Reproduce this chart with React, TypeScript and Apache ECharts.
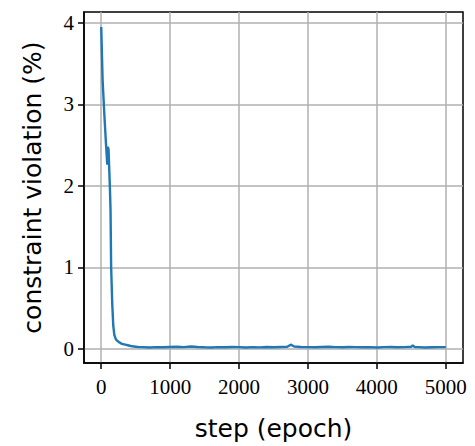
import React, { useEffect, useRef } from "react";
import * as echarts from "echarts";

// Training steps (epochs) at which constraint violation was recorded
const steps = [
  0, 20, 45, 70, 88, 96, 106, 125, 135, 144, 160, 175, 190, 210, 230, 260, 300,
  350, 400, 450, 500, 550, 600, 700, 800, 900, 1000, 1100, 1200, 1300, 1400,
  1500, 1600, 1700, 1800, 1900, 2000, 2100, 2200, 2300, 2400, 2500, 2600, 2700,
  2750, 2800, 2900, 3000, 3100, 3200, 3300, 3400, 3500, 3600, 3700, 3800, 3900,
  4000, 4100, 4200, 4300, 4400, 4500, 4520, 4550, 4600, 4700, 4800, 4900, 5000,
];

// Constraint violation (%) at each step
const violation = [
  3.95, 3.3, 2.88, 2.5, 2.26, 2.48, 2.45, 2.0, 1.71, 1.0, 0.55, 0.28, 0.17,
  0.12, 0.1, 0.08, 0.06, 0.05, 0.04, 0.03, 0.025, 0.02, 0.02, 0.015, 0.02,
  0.018, 0.022, 0.025, 0.02, 0.028, 0.022, 0.018, 0.015, 0.02, 0.018, 0.022,
  0.02, 0.015, 0.02, 0.017, 0.022, 0.018, 0.022, 0.025, 0.05, 0.028, 0.022,
  0.02, 0.018, 0.022, 0.025, 0.02, 0.018, 0.022, 0.02, 0.018, 0.02, 0.015,
  0.02, 0.022, 0.018, 0.02, 0.025, 0.04, 0.022, 0.02, 0.015, 0.018, 0.02, 0.02,
];

const xTicks = [0, 1000, 2000, 3000, 4000, 5000];
const yTicks = [0, 1, 2, 3, 4];

const xName = "step (epoch)";
const yName = "constraint violation (%)";

export default function App() {
  const ref = useRef<HTMLDivElement>(null);

  useEffect(() => {
    document.body.style.margin = "0";
    if (!ref.current) return;
    const chart = echarts.init(ref.current, undefined, { renderer: "svg" });

    const tickFont = {
      fontFamily: "Liberation Serif",
      fontSize: 21,
      color: "#000",
    };
    const titleFont = {
      fontFamily: "DejaVu Sans",
      fontSize: 25,
      color: "#000",
    };
    const gridLine = { show: true, lineStyle: { color: "#b0b0b0", width: 1.5 } };
    const axisLine = { show: true, onZero: false, lineStyle: { color: "#000", width: 1.5 } };

    chart.setOption({
      animation: false,
      grid: {
        left: 84,
        right: 12,
        top: 12,
        bottom: 82,
        show: true,
        borderColor: "#000",
        borderWidth: 1.5,
        backgroundColor: "transparent",
      },
      xAxis: {
        type: "value",
        min: -250,
        max: 5250,
        name: xName,
        nameLocation: "middle",
        nameGap: 53,
        nameTextStyle: titleFont,
        axisLine,
        axisTick: {
          show: true,
          length: 6,
          inside: false,
          customValues: xTicks,
          lineStyle: { color: "#000", width: 1.5 },
        },
        axisLabel: {
          ...tickFont,
          margin: 13,
          customValues: xTicks,
          formatter: (v: number) => String(v),
        },
        splitLine: gridLine,
      },
      yAxis: {
        type: "value",
        min: -0.175,
        max: 4.135,
        name: yName,
        nameLocation: "middle",
        nameGap: 39,
        nameTextStyle: titleFont,
        axisLine,
        axisTick: {
          show: true,
          length: 6,
          inside: false,
          customValues: yTicks,
          lineStyle: { color: "#000", width: 1.5 },
        },
        axisLabel: {
          ...tickFont,
          margin: 10,
          customValues: yTicks,
          formatter: (v: number) => String(v),
        },
        splitLine: gridLine,
      },
      series: [
        {
          type: "line",
          data: steps.map((s, i) => [s, violation[i]]),
          showSymbol: false,
          lineStyle: { color: "#1f77b4", width: 2.4 },
          itemStyle: { color: "#1f77b4" },
        },
      ],
    });

    return () => chart.dispose();
  }, []);

  return <div ref={ref} style={{ width: 475, height: 446 }} />;
}
